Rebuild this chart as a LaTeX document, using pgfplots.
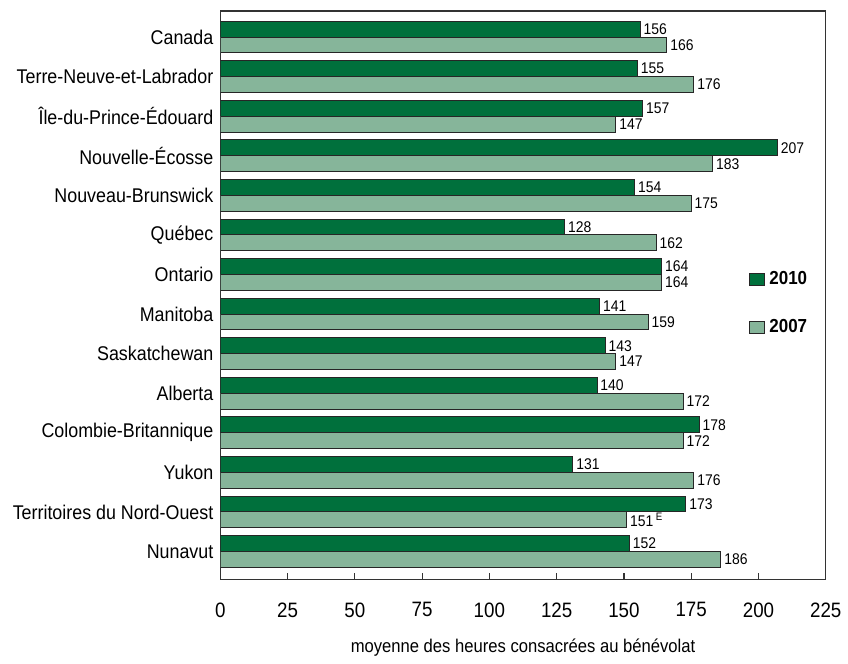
\documentclass[border=0pt]{standalone}
\usepackage{pgfplots}
\pgfplotsset{compat=1.18}
\usepackage{fontspec}
\setmainfont[FakeStretch=0.9]{Liberation Sans}
\definecolor{dg}{HTML}{00703C}
\definecolor{lg}{HTML}{86B59A}
\begin{document}
\begin{tikzpicture}
\begin{axis}[
  scale only axis, width=305pt, height=286.5pt,
  xbar, bar width=0.4, bar shift=0pt,
  xmin=0, xmax=225, ymin=-0.66, ymax=13.71, y dir=reverse,
  xtick={0,25,...,225}, xtick pos=bottom, tick align=inside, major tick length=3.5pt,
  ytick={0,...,13}, ytick pos=left, ytick style={draw=none},
  yticklabels={Canada,Terre-Neuve-et-Labrador,Île-du-Prince-Édouard,Nouvelle-Écosse,Nouveau-Brunswick,Québec,Ontario,Manitoba,Saskatchewan,Alberta,Colombie-Britannique,Yukon,Territoires du Nord-Ouest,Nunavut},
  yticklabel style={font=\fontsize{10}{12}\selectfont},
  xticklabel style={font=\fontsize{10.5}{12}\selectfont, yshift=-8pt},
  /pgf/number format/assume math mode=true,
  xlabel={moyenne des heures consacrées au bénévolat},
  xlabel style={font=\fontsize{9.3}{11}\selectfont, at={(axis description cs:0.5,0)}, anchor=center, yshift=-34.5pt},
  axis line style={line width=0.6pt, black!80},
  tick style={line width=0.6pt, black!80},
  point meta=explicit symbolic,
  nodes near coords={\pgfplotspointmeta},
  nodes near coords style={font=\fontsize{7.8}{9}\selectfont, anchor=west, inner sep=1.5pt},
  legend style={at={(axis description cs:0.862,0.485)}, anchor=west, draw=none, fill=none,
    font=\bfseries\fontsize{9.5}{11}\selectfont, row sep=12pt},
  legend cell align=left,
  legend image code/.code={\draw[#1] (0pt,-3pt) rectangle (8pt,3pt);},
]
\addplot[fill=dg, draw=black!85, line width=0.5pt] coordinates {
  (156,-0.2) [156]
  (155,0.8) [155]
  (157,1.8) [157]
  (207,2.8) [207]
  (154,3.8) [154]
  (128,4.8) [128]
  (164,5.8) [164]
  (141,6.8) [141]
  (143,7.8) [143]
  (140,8.8) [140]
  (178,9.8) [178]
  (131,10.8) [131]
  (173,11.8) [173]
  (152,12.8) [152]
};
\addplot[fill=lg, draw=black!85, line width=0.5pt] coordinates {
  (166,0.2) [166]
  (176,1.2) [176]
  (147,2.2) [147]
  (183,3.2) [183]
  (175,4.2) [175]
  (162,5.2) [162]
  (164,6.2) [164]
  (159,7.2) [159]
  (147,8.2) [147]
  (172,9.2) [172]
  (172,10.2) [172]
  (176,11.2) [176]
  (151,12.2) [151\,\textsuperscript{E}]
  (186,13.2) [186]
};
\legend{2010,2007}
\end{axis}
\path[draw=none] ([xshift=-111pt,yshift=-40pt]current axis.south west) rectangle ++(424pt,332pt);
\end{tikzpicture}
\end{document}
